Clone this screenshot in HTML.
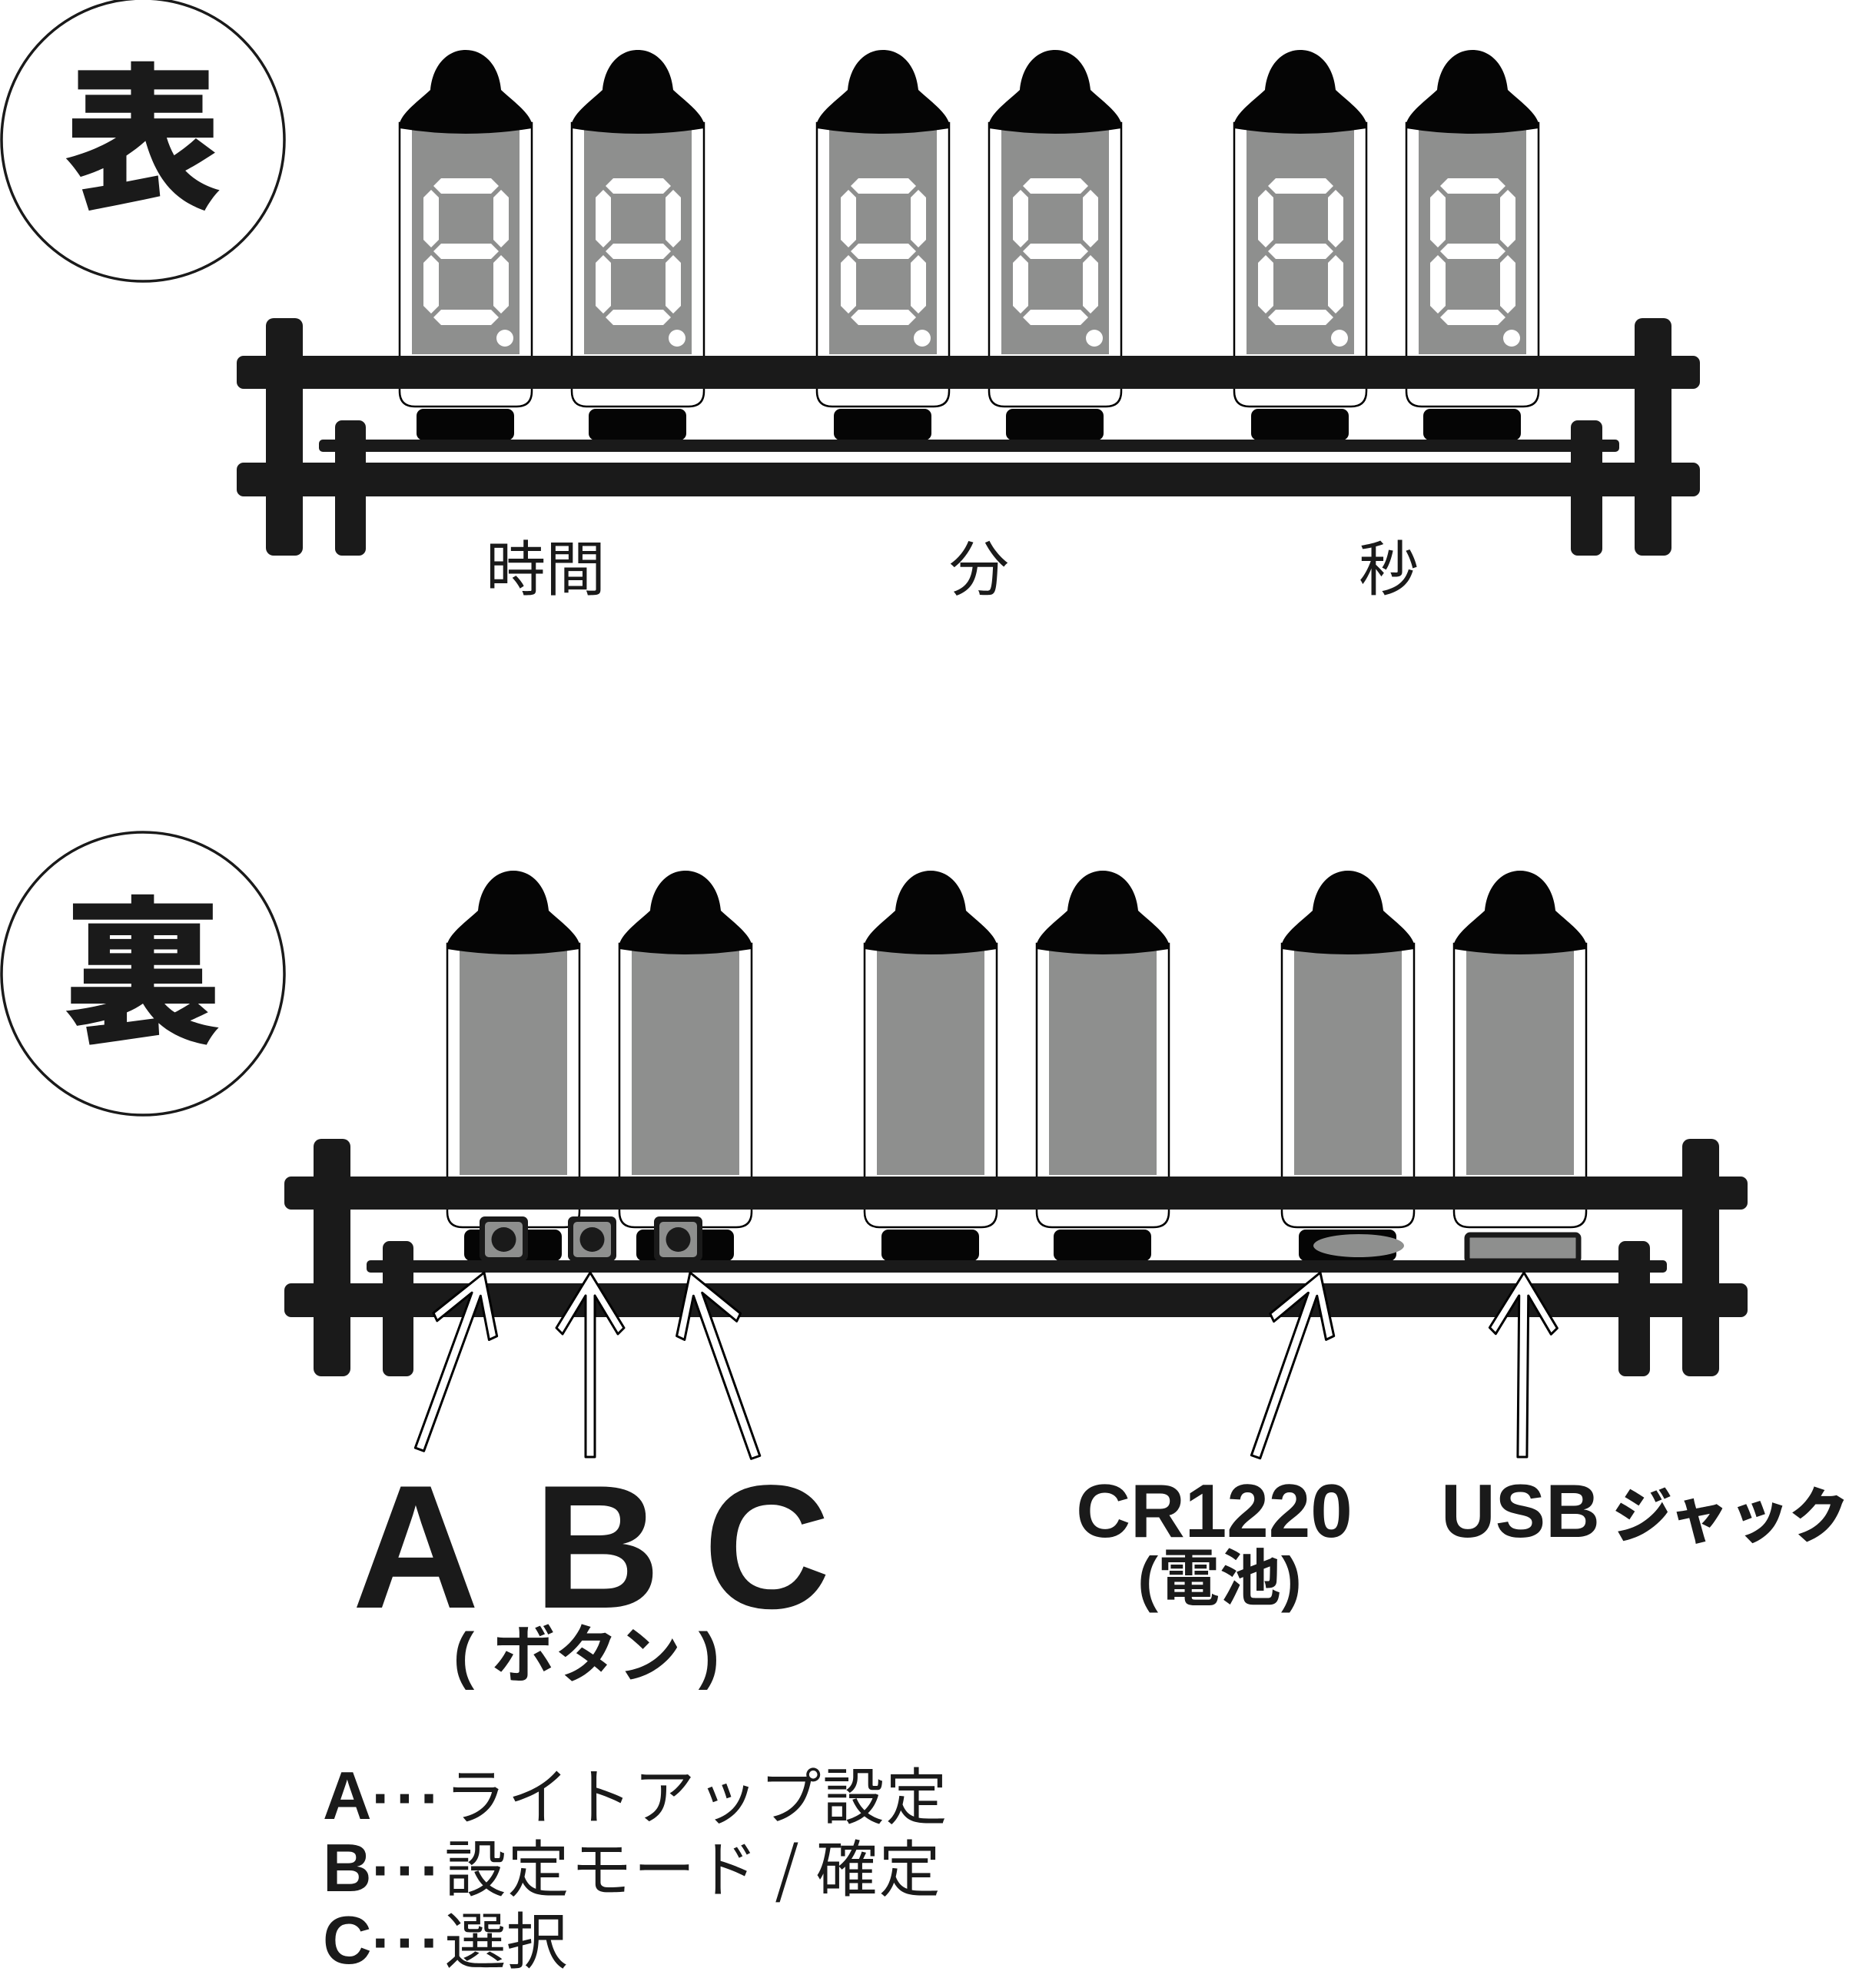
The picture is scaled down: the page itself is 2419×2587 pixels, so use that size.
<!DOCTYPE html>
<html><head><meta charset="utf-8"><style>
html,body{margin:0;padding:0;background:#fff;}
svg{display:block;}
</style></head><body>
<svg width="2419" height="2587" viewBox="0 0 2419 2587" xmlns="http://www.w3.org/2000/svg">
<defs>
<g id="glass">
<path d="M0,95 L0,444 Q0,464 20,464 L152,464 Q172,464 172,444 L172,95 Z" fill="#fff" stroke="#000" stroke-width="2.5"/>
<rect x="16" y="97" width="140" height="299" fill="#8e8f8e"/>
<path d="M0,102 L0,95 C5,80 25,66 40,52 C43,20 62,0 86,0 C110,0 129,20 132,52 C147,66 167,80 172,95 L172,102 Q86,116 0,102 Z" fill="#050505"/>
</g>
<g id="digit" fill="#fff">
<polygon points="44,177 54,167 119,167 129,177 119,187 54,187"/>
<polygon points="44,262 54,252 119,252 129,262 119,272 54,272"/>
<polygon points="44,348 54,338 119,338 129,348 119,358 54,358"/>
<polygon points="41,182 51,192 51,247 41,257 31,247 31,192"/>
<polygon points="41,267 51,277 51,333 41,343 31,333 31,277"/>
<polygon points="132,182 142,192 142,247 132,257 122,247 122,192"/>
<polygon points="132,267 142,277 142,333 132,343 122,333 122,277"/>
<circle cx="137" cy="375" r="11"/>
</g>
<rect id="base" x="22" y="467" width="127" height="41" rx="9" fill="#050505"/>
<g id="frame" fill="#1a1a1a">
<rect x="370" y="1531" width="1904" height="43" rx="9"/>
<rect x="477" y="1640" width="1692" height="16" rx="5"/>
<rect x="370" y="1670" width="1904" height="44" rx="9"/>
<rect x="408" y="1482" width="48" height="309" rx="10"/>
<rect x="498" y="1615" width="40" height="176" rx="9"/>
<rect x="2106" y="1615" width="41" height="176" rx="9"/>
<rect x="2189" y="1482" width="48" height="309" rx="10"/>
</g>
<g id="btn">
<rect x="0" y="0" width="63" height="58" rx="7" fill="#1a1a1a"/>
<rect x="7" y="7" width="49" height="46" rx="5" fill="#8e8f8e"/>
<circle cx="31.5" cy="30" r="16" fill="#1a1a1a"/>
</g>
</defs>

<circle cx="186" cy="182" r="184" fill="none" stroke="#1a1a1a" stroke-width="3.5"/>
<text x="186" y="255" text-anchor="middle" font-family="'Noto Sans CJK JP',sans-serif" font-weight="900" font-size="205" fill="#1a1a1a">表</text>

<g transform="translate(520,65)"><use href="#glass"/><use href="#digit"/><use href="#base"/></g>
<g transform="translate(744,65)"><use href="#glass"/><use href="#digit"/><use href="#base"/></g>
<g transform="translate(1063,65)"><use href="#glass"/><use href="#digit"/><use href="#base"/></g>
<g transform="translate(1287,65)"><use href="#glass"/><use href="#digit"/><use href="#base"/></g>
<g transform="translate(1606,65)"><use href="#glass"/><use href="#digit"/><use href="#base"/></g>
<g transform="translate(1830,65)"><use href="#glass"/><use href="#digit"/><use href="#base"/></g>
<use href="#frame" transform="translate(-62,-1068)"/>

<g font-family="'Liberation Sans','Noto Sans CJK JP',sans-serif" font-size="78" fill="#1a1a1a" text-anchor="middle">
<text x="710" y="768">時間</text>
<text x="1274" y="768">分</text>
<text x="1807" y="768">秒</text>
</g>

<circle cx="186" cy="1267" r="184" fill="none" stroke="#1a1a1a" stroke-width="3.5"/>
<text x="186" y="1340" text-anchor="middle" font-family="'Noto Sans CJK JP',sans-serif" font-weight="900" font-size="205" fill="#1a1a1a">裏</text>

<g transform="translate(582,1133)"><use href="#glass"/><use href="#base"/></g>
<g transform="translate(806,1133)"><use href="#glass"/><use href="#base"/></g>
<g transform="translate(1125,1133)"><use href="#glass"/><use href="#base"/></g>
<g transform="translate(1349,1133)"><use href="#glass"/><use href="#base"/></g>
<g transform="translate(1668,1133)"><use href="#glass"/><use href="#base"/></g>
<g transform="translate(1892,1133)"><use href="#glass"/></g>
<use href="#frame"/>

<use href="#btn" transform="translate(624,1583)"/>
<use href="#btn" transform="translate(739,1583)"/>
<use href="#btn" transform="translate(851,1583)"/>
<ellipse cx="1768" cy="1621" rx="59" ry="15" fill="#8e8f8e"/>
<rect x="1909" y="1607" width="145" height="34" rx="4" fill="#8e8f8e" stroke="#1a1a1a" stroke-width="7"/>

<g fill="#fff" stroke="#000" stroke-width="3" stroke-linejoin="round">
<polygon transform="translate(630,1656) rotate(20.06)" points="0,0 44,72 36,80 6,30 6,245 -6,245 -6,30 -36,80 -44,72"/>
<polygon transform="translate(768,1656) rotate(0)" points="0,0 44,72 36,80 6,30 6,240 -6,240 -6,30 -36,80 -44,72"/>
<polygon transform="translate(898,1656) rotate(-19.5)" points="0,0 44,72 36,80 6,30 6,255 -6,255 -6,30 -36,80 -44,72"/>
<polygon transform="translate(1718,1656) rotate(19.3)" points="0,0 44,72 36,80 6,30 6,254 -6,254 -6,30 -36,80 -44,72"/>
<polygon transform="translate(1983,1656) rotate(0.5)" points="0,0 44,72 36,80 6,30 6,240 -6,240 -6,30 -36,80 -44,72"/>
</g>

<g font-family="'Liberation Sans','Noto Sans CJK JP',sans-serif" font-weight="bold" fill="#1a1a1a">
<text x="541" y="2092" font-size="229" text-anchor="middle">A</text>
<text x="777" y="2092" font-size="229" text-anchor="middle">B</text>
<text x="998" y="2092" font-size="229" text-anchor="middle">C</text>
<text x="763" y="2182" font-size="82" text-anchor="middle">( ボタン )</text>
<text x="1580" y="2000" font-size="98" text-anchor="middle">CR1220</text>
<text x="1587" y="2082" font-size="80" text-anchor="middle">(電池)</text>
<text x="1875" y="2000" font-size="98">USB<tspan dx="16" font-size="78" font-family="'Noto Sans CJK JP',sans-serif" font-weight="900">ジャック</tspan></text>
</g>

<g font-family="'Liberation Sans','Noto Sans CJK JP',sans-serif" font-size="80" fill="#1a1a1a">
<text x="420" y="2367"><tspan font-weight="bold" font-size="88">A</tspan><tspan font-weight="bold" letter-spacing="5">···</tspan><tspan font-family="'Noto Sans CJK JP',sans-serif" letter-spacing="2">ライトアップ設定</tspan></text>
<text x="420" y="2461"><tspan font-weight="bold" font-size="88">B</tspan><tspan font-weight="bold" letter-spacing="5">···</tspan><tspan font-family="'Noto Sans CJK JP',sans-serif" letter-spacing="2">設定モード / 確定</tspan></text>
<text x="420" y="2555"><tspan font-weight="bold" font-size="88">C</tspan><tspan font-weight="bold" letter-spacing="5">···</tspan><tspan font-family="'Noto Sans CJK JP',sans-serif">選択</tspan></text>
</g>
</svg>
</body></html>
